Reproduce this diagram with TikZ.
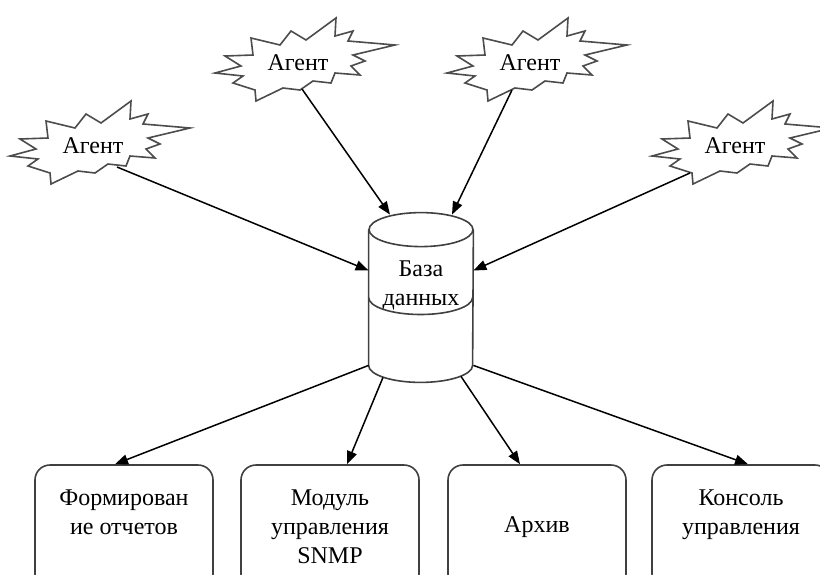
\documentclass[tikz,border=0pt]{standalone}
\usepackage{fontspec}
\setmainfont{Liberation Serif}
\usetikzlibrary{calc,arrows.meta}
\tikzset{
	box/.style={draw=black!75, line width=0.8pt, rounded corners=7.5pt, minimum width=89pt, minimum height=62pt, align=center},
	dbbody/.style={minimum width=52pt, minimum height=67.5pt, inner sep=0pt, align=center},
	dbline/.style={draw=black!75, line width=0.8pt},
	burstline/.style={draw=black!70, line width=0.8pt, line join=miter},
	link/.style={-{Triangle[length=6.5pt,width=5pt]}, line width=0.75pt},
}
\begin{document}
\begin{tikzpicture}[x=0.5pt,y=-0.5pt,font=\fontsize{12}{14.5}\selectfont]
			\useasboundingbox (0,0) rectangle (820,574);
			\clip (0,0) rectangle (820,574);
			
			% agents
			\node (ag1) at (93,146) {Агент};
			\node (ag2) at (298,63) {Агент};
			\node (ag3) at (530,63) {Агент};
			\node (ag4) at (735,146) {Агент};
			
			% explosion outline round each agent
			\foreach \a in {ag1,ag2,ag3,ag4}
			\draw[burstline,shift={(\a.center)}] (-83,10)
			\foreach \x/\y in {-57/3,-73/-7,-45/-8,-47/-25,-18/-18,-7/-32,8/-23,38/-45,37/-27,55/-32,50/-22,97/-18,55/-8,67/-2,53/3,62/12,37/10,33/20,15/18,2/27,-15/25,-42/38,-43/27,-65/20,-55/13}
			{ -- (\x,\y) } -- cycle;
			
			% database
			\node[dbbody] (db) at (421,297.5) {База\\данных\\\mbox{}};
			\draw[dbline] (db.north west) -- (db.south west) arc[start angle=180,end angle=360,x radius=26pt,y radius=8.5pt] -- (db.north east);
			\draw[dbline] (db.north) ellipse [x radius=26pt,y radius=8.5pt];
			\draw[dbline] (db.west) arc[start angle=180,end angle=360,x radius=26pt,y radius=8.5pt];
			
			% modules
			\node[box] (rep) at (124,527) {Формирован\\ие отчетов\\\mbox{}};
			\node[box] (snmp) at (330,527) {Модуль\\управления\\SNMP};
			\node[box] (arch) at (537,527) {Архив};
			\node[box] (cons) at (741,527) {Консоль\\управления\\\mbox{}};
			
			% agents to database
			\draw[link] ($(ag1.center)+(24,21)$) -- ($(db.west)+(0,-27)$);
			\draw[link] ($(ag2.center)+(4,26)$) -- ($(db.north)+(-31,-15)$);
			\draw[link] ($(ag3.center)+(-18,27)$) -- ($(db.north)+(31,-15)$);
			\draw[link] ($(ag4.center)+(-45,27)$) -- ($(db.east)+(0,-27)$);
			
			% database to modules
			\draw[link] (db.south west) -- ($(rep.north)+(-9,0)$);
			\draw[link] ($(db.south)+(-38,12)$) -- ($(snmp.north)+(17,0)$);
			\draw[link] ($(db.south)+(40,11)$) -- ($(arch.north)+(-17,0)$);
			\draw[link] (db.south east) -- ($(cons.north)+(7,0)$);
			
\end{tikzpicture}
\end{document}
